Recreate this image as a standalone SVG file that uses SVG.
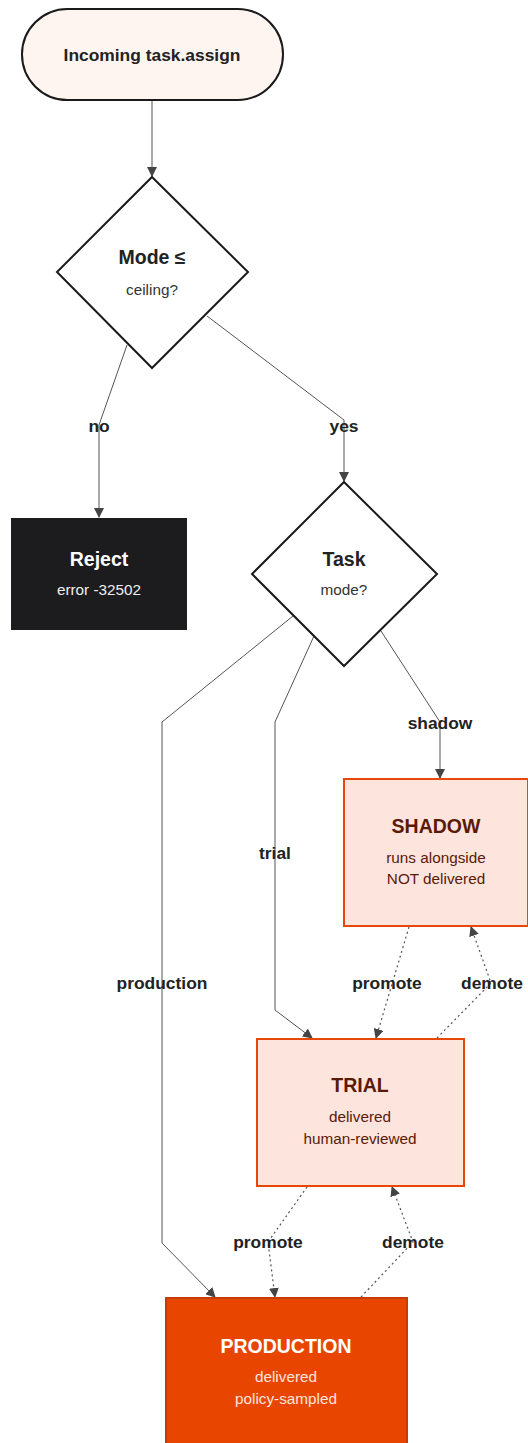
<svg xmlns="http://www.w3.org/2000/svg" width="528" height="1443" viewBox="0 0 528 1443">
<style>
text{font-family:"Liberation Sans",Arial,sans-serif;text-anchor:middle}
.t{font-size:19.5px;font-weight:bold}
.s{font-size:15.3px}
.lbl{font-size:17.4px;font-weight:bold;fill:#222}
.e{fill:none;stroke:#555;stroke-width:1}
.d{fill:none;stroke:#555;stroke-width:1.2;stroke-dasharray:2 3}
.dk{fill:#222}
.light{fill:#fde4dc;stroke:#e8470a;stroke-width:2}
.lt{fill:#5a1a08}
</style>
<defs>
<marker id="ah" viewBox="0 0 10 10" refX="9" refY="5" markerWidth="10" markerHeight="10" markerUnits="userSpaceOnUse" orient="auto">
<path d="M0,0 L10,5 L0,10 z" fill="#444"/>
</marker>
</defs>
<g id="connectors">
<path class="e" d="M152,100 L152,176" marker-end="url(#ah)"/>
<path class="e" d="M127,345 L99,425 L99,517" marker-end="url(#ah)"/>
<path class="e" d="M207,316 L344,420 L344,481" marker-end="url(#ah)"/>
<path class="e" d="M293,616 L162,722 L162,1243 L215,1297" marker-end="url(#ah)"/>
<path class="e" d="M314,636 L275,722 L275,1010 L312,1038" marker-end="url(#ah)"/>
<path class="e" d="M381,631 L440,722 L440,778" marker-end="url(#ah)"/>
<path class="d" d="M409,927 L376,1038" marker-end="url(#ah)"/>
<path class="d" d="M437,1038 L491,983 L471,927" marker-end="url(#ah)"/>
<path class="d" d="M307,1187 L268,1242 L275,1297" marker-end="url(#ah)"/>
<path class="d" d="M361,1297 L413,1242 L392,1187" marker-end="url(#ah)"/>
<text class="lbl" x="99" y="432">no</text>
<text class="lbl" x="344" y="432">yes</text>
<text class="lbl" x="162" y="989">production</text>
<text class="lbl" x="275" y="859">trial</text>
<text class="lbl" x="440" y="729">shadow</text>
<text class="lbl" x="387" y="989">promote</text>
<text class="lbl" x="492" y="989">demote</text>
<text class="lbl" x="268" y="1248">promote</text>
<text class="lbl" x="413" y="1248">demote</text>
</g>
<g id="start">
<rect x="22" y="9" width="261" height="91" rx="45.5" fill="#fff5f0" stroke="#1a1a1a" stroke-width="2"/>
<text class="dk" x="152" y="61" style="font-size:17.4px;font-weight:bold">Incoming task.assign</text>
</g>
<g id="ceiling">
<path d="M152,177 L248,272 L152,368 L57,272 z" fill="#fff" stroke="#1a1a1a" stroke-width="2"/>
<text class="t dk" x="152" y="264">Mode ≤</text>
<text class="s" x="152" y="295" fill="#333">ceiling?</text>
</g>
<g id="reject">
<rect x="11" y="518" width="176" height="112" fill="#1c1c1e"/>
<text class="t" x="99" y="566" fill="#fff">Reject</text>
<text class="s" x="99" y="595" fill="#eee">error -32502</text>
</g>
<g id="mode">
<path d="M344,482 L437,574 L344,666 L252,574 z" fill="#fff" stroke="#1a1a1a" stroke-width="2"/>
<text class="t dk" x="344" y="566">Task</text>
<text class="s" x="344" y="595" fill="#333">mode?</text>
</g>
<g id="shadow">
<rect class="light" x="344" y="779" width="184" height="147"/>
<text class="t lt" x="436" y="833">SHADOW</text>
<text class="s lt" x="436" y="863">runs alongside</text>
<text class="s lt" x="436" y="884">NOT delivered</text>
</g>
<g id="trial">
<rect class="light" x="257" y="1039" width="207" height="147"/>
<text class="t lt" x="360" y="1092">TRIAL</text>
<text class="s lt" x="360" y="1122">delivered</text>
<text class="s lt" x="360" y="1144">human-reviewed</text>
</g>
<g id="production">
<rect x="166" y="1298" width="241" height="150" fill="#e84600" stroke="#c43c00" stroke-width="2"/>
<text class="t" x="286" y="1353" fill="#fff">PRODUCTION</text>
<text class="s" x="286" y="1382" fill="#fde4dc">delivered</text>
<text class="s" x="286" y="1404" fill="#fde4dc">policy-sampled</text>
</g>
</svg>
